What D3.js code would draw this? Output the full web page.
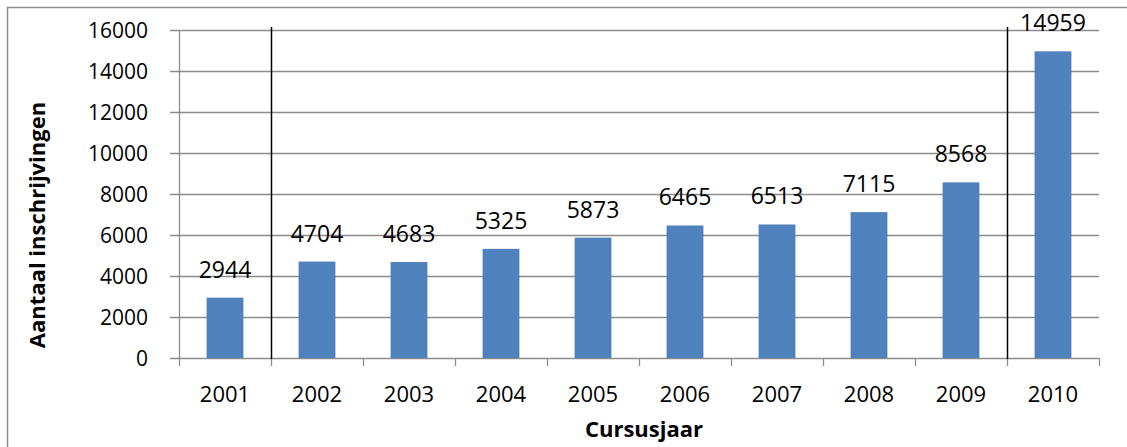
<!DOCTYPE html>
<html>
<head>
<meta charset="utf-8">
<script src="https://cdn.jsdelivr.net/npm/d3@7"></script>
<style>
  body { margin: 0; background: #fff; }
  svg { display: block; font-family: "Open Sans", Lato, sans-serif; }
</style>
</head>
<body>
<div id="chart"></div>
<script>
// Data
var years = ["2001", "2002", "2003", "2004", "2005", "2006", "2007", "2008", "2009", "2010"];
var registrations = [2944, 4704, 4683, 5325, 5873, 6465, 6513, 7115, 8568, 14959];
var yTicks = [0, 2000, 4000, 6000, 8000, 10000, 12000, 14000, 16000];
// years that get a black separator line on their left side
var separatorYears = ["2002", "2010"];

var width = 1127;
var height = 447;
var plotLeft = 179, plotRight = 1099, plotTop = 30, plotBottom = 358;

var data = years.map(function (y, i) {
    return { year: y, value: registrations[i] };
});

var svg = d3.select("#chart")
    .append("svg")
    .attr("width", width)
    .attr("height", height);

// outer chart border
svg.append("rect")
    .attr("x", 7.5)
    .attr("y", 7.5)
    .attr("width", width + 20)
    .attr("height", height + 20)
    .attr("fill", "none")
    .attr("stroke", "#8e8e8e")
    .attr("stroke-width", 1.5);

var x = d3.scaleBand()
    .domain(years)
    .range([plotLeft, plotRight])
    .paddingInner(0.6)
    .paddingOuter(0.3);

var y = d3.scaleLinear()
    .domain([0, 16000])
    .range([plotBottom, plotTop]);

var step = x.step();
function boundary(yr) {
    return x(yr) - (step - x.bandwidth()) / 2;
}

// gridlines + y ticks
svg.append("g")
    .selectAll("line")
    .data(yTicks)
    .enter()
    .append("line")
    .attr("x1", plotLeft - 9)
    .attr("x2", plotRight)
    .attr("y1", function (d) { return Math.round(y(d)) + 0.5; })
    .attr("y2", function (d) { return Math.round(y(d)) + 0.5; })
    .attr("stroke", "#8c8c8c")
    .attr("stroke-width", 1.3);

// y axis line
svg.append("line")
    .attr("x1", plotLeft + 0.5)
    .attr("x2", plotLeft + 0.5)
    .attr("y1", plotTop)
    .attr("y2", plotBottom + 0.5)
    .attr("stroke", "#8c8c8c")
    .attr("stroke-width", 1.3);

// y tick labels
svg.append("g")
    .selectAll("text")
    .data(yTicks)
    .enter()
    .append("text")
    .attr("x", 148)
    .attr("y", function (d) { return y(d); })
    .attr("dy", "0.36em")
    .attr("text-anchor", "end")
    .style("font-size", "21px")
    .attr("fill", "#000")
    .text(function (d) { return d; });

// category ticks on the x axis
var xTickPos = years.map(function (yr) { return boundary(yr); }).concat([plotRight]);
svg.append("g")
    .selectAll("line")
    .data(xTickPos)
    .enter()
    .append("line")
    .attr("x1", function (d) { return Math.round(d) + 0.5; })
    .attr("x2", function (d) { return Math.round(d) + 0.5; })
    .attr("y1", plotBottom)
    .attr("y2", plotBottom + 8)
    .attr("stroke", "#8c8c8c")
    .attr("stroke-width", 1.3);

// bars
svg.append("g")
    .selectAll("rect")
    .data(data)
    .enter()
    .append("rect")
    .attr("x", function (d) { return x(d.year); })
    .attr("y", function (d) { return y(d.value); })
    .attr("width", x.bandwidth())
    .attr("height", function (d) { return y(0) - y(d.value); })
    .attr("fill", "#4f81bd");

// value labels
svg.append("g")
    .selectAll("text")
    .data(data)
    .enter()
    .append("text")
    .attr("x", function (d) { return x(d.year) + x.bandwidth() / 2; })
    .attr("y", function (d) { return y(d.value) - 20; })
    .attr("text-anchor", "middle")
    .style("font-size", "23px")
    .attr("fill", "#000")
    .text(function (d) { return d.value; });

// black separator lines
svg.append("g")
    .selectAll("line")
    .data(separatorYears)
    .enter()
    .append("line")
    .attr("x1", function (d) { return Math.round(boundary(d)) + 0.5; })
    .attr("x2", function (d) { return Math.round(boundary(d)) + 0.5; })
    .attr("y1", 27)
    .attr("y2", plotBottom + 1)
    .attr("stroke", "#000")
    .attr("stroke-width", 1.5);

// x tick labels
svg.append("g")
    .selectAll("text")
    .data(years)
    .enter()
    .append("text")
    .attr("x", function (d) { return x(d) + x.bandwidth() / 2; })
    .attr("y", 402)
    .attr("text-anchor", "middle")
    .style("font-size", "22px")
    .attr("fill", "#000")
    .text(function (d) { return d; });

// axis titles
svg.append("text")
    .attr("x", 644)
    .attr("y", 437)
    .attr("text-anchor", "middle")
    .style("font-size", "22px")
    .style("font-weight", "bold")
    .text("Cursusjaar");

svg.append("text")
    .attr("transform", "translate(45,225) rotate(-90)")
    .attr("text-anchor", "middle")
    .style("font-size", "22px")
    .style("font-weight", "bold")
    .text("Aantaal inschrijvingen");
</script>
</body>
</html>
